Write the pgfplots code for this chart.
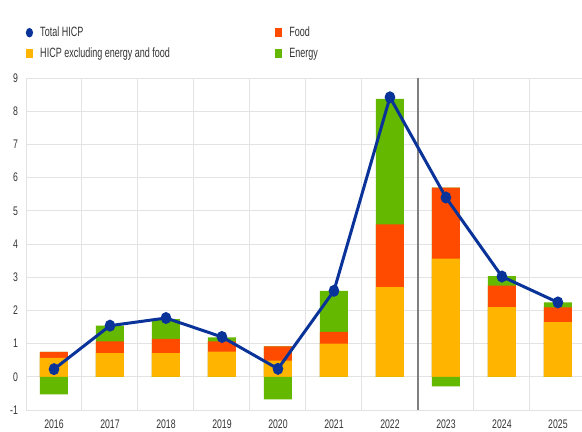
\documentclass[border=0pt]{standalone}
\usepackage{fontspec}
\setmainfont{Liberation Sans}[FakeStretch=0.70]
\newfontfamily\legfont{Liberation Sans}[FakeStretch=0.67]
\usepackage{pgfplots}
\usepackage{pgfplotstable}
\pgfplotsset{compat=1.18}
\definecolor{ecbblue}{HTML}{0A3399}
\definecolor{ecborange}{HTML}{FFB400}
\definecolor{ecbred}{HTML}{FF4B00}
\definecolor{ecbgreen}{HTML}{65B800}
\definecolor{gridgray}{HTML}{E3E3E3}
\definecolor{divgray}{HTML}{808080}
\definecolor{txt}{HTML}{333333}

\pgfplotstableread{
x core food energy total
0 0.57 0.18 -0.53 0.23
1 0.71 0.36 0.47 1.54
2 0.71 0.43 0.60 1.77
3 0.76 0.31 0.12 1.20
4 0.49 0.43 -0.68 0.24
5 1.00 0.35 1.24 2.59
6 2.70 1.89 3.78 8.42
7 3.56 2.14 -0.29 5.40
8 2.10 0.65 0.28 3.02
9 1.65 0.44 0.15 2.24
}\hicp

\begin{document}
\begin{tikzpicture}
\useasboundingbox (0,0) rectangle (582bp,432bp);
\begin{axis}[
  at={(26bp,22bp)}, anchor=south west,
  scale only axis, width=556bp, height=332bp,
  xmin=-0.5, xmax=9.43, ymin=-1, ymax=9,
  ybar, bar width=0.5,
  axis line style={draw=none},
  major tick length=0pt, minor tick length=0pt,
  xtick={0,...,9},
  xticklabels={2016,2017,2018,2019,2020,2021,2022,2023,2024,2025},
  minor xtick={-0.5,0.5,1.5,2.5,3.5,4.5,5.5,7.5,8.5},
  xminorgrids=true,
  ytick={-1,0,...,9},
  ymajorgrids=true,
  major grid style={gridgray, line width=1bp},
  minor grid style={gridgray, line width=1bp},
  extra x ticks={6.5},
  extra x tick labels={},
  extra x tick style={xmajorgrids=true, major grid style={divgray, line width=1.2bp}},
  /pgf/number format/assume math mode=true,
  tick label style={font=\fontsize{12.5}{14}\selectfont, text=txt},
  yticklabel style={xshift=-4.5bp},
  xticklabel style={yshift=-6.5bp},
  legend columns=2,
  legend cell align=left,
  legend style={draw=none, fill=none, at={(axis description cs:-0.006,1.166)}, anchor=north west,
    font=\legfont\fontsize{13.5}{16}\selectfont, text=txt, row sep=5.5bp,
    /tikz/column 2/.style={column sep=103bp}},
  clip=false,
]
\addlegendimage{legend image code/.code={\path[draw=none,fill=none] (0,-4bp) rectangle (12.3bp,4bp);\fill[ecbblue, draw=none] (3.5bp,0) ellipse [x radius=3.6bp, y radius=4.8bp];}}
\addlegendentry{Total HICP}
\addlegendimage{legend image code/.code={\path[draw=none,fill=none] (0,-4bp) rectangle (12.3bp,4bp);\fill[ecbred, draw=none] (0,-4.5bp) rectangle (7bp,4.5bp);}}
\addlegendentry{Food}
\addlegendimage{legend image code/.code={\path[draw=none,fill=none] (0,-4bp) rectangle (12.3bp,4bp);\fill[ecborange, draw=none] (0,-4.5bp) rectangle (7bp,4.5bp);}}
\addlegendentry{HICP excluding energy and food}
\addlegendimage{legend image code/.code={\path[draw=none,fill=none] (0,-4bp) rectangle (12.3bp,4bp);\fill[ecbgreen, draw=none] (0,-4.5bp) rectangle (7bp,4.5bp);}}
\addlegendentry{Energy}

\addplot[fill=ecbgreen, draw=none, bar shift=0pt, forget plot] table[x=x, y expr={\thisrow{core}+\thisrow{food}+max(\thisrow{energy},0)}] {\hicp};
\addplot[fill=ecbred, draw=none, bar shift=0pt, forget plot] table[x=x, y expr={\thisrow{core}+\thisrow{food}}] {\hicp};
\addplot[fill=ecborange, draw=none, bar shift=0pt, forget plot] table[x=x, y=core] {\hicp};
\addplot[fill=ecbgreen, draw=none, bar shift=0pt, forget plot] table[x=x, y expr={min(\thisrow{energy},0)}] {\hicp};
\addplot[sharp plot, ecbblue, line width=3bp, mark=*, mark size=4.4bp,
  mark options={fill=ecbblue, draw=none, xscale=0.85}, forget plot] table[x=x, y=total] {\hicp};
\end{axis}
\end{tikzpicture}
\end{document}
